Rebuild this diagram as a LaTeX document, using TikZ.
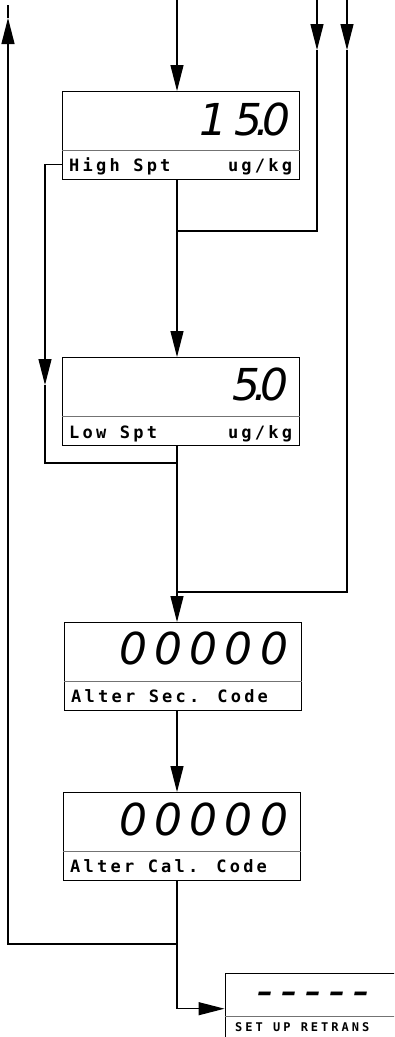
\documentclass[tikz,border=0pt]{standalone}
\usepackage{fontspec}
\usetikzlibrary{arrows.meta}
\newfontfamily\segfont{DejaVu Sans}[LetterSpace=16]
\newfontfamily\lblfont{DejaVu Sans Mono}[LetterSpace=19]
\newfontfamily\smlfont{DejaVu Sans Mono}[LetterSpace=25]
\newfontfamily\dashfont{DejaVu Sans}[LetterSpace=16]
\tikzset{
  conn/.style={line width=1.2pt, black},
  arr/.style={conn, -{Triangle[length=26pt,width=13pt]}},
  disp/.style={draw, line width=1.3pt, minimum width=237pt, minimum height=88pt, inner sep=0pt, anchor=north west},
  dispsmall/.style={draw, line width=1.3pt, minimum width=220pt, minimum height=100pt, inner sep=0pt, anchor=north west},
  divider/.style={line width=0.8pt, black!55},
  digits/.style={inner sep=0pt, anchor=base east, font=\segfont\itshape\fontsize{44}{44}\selectfont},
  lbl/.style={inner sep=0pt, anchor=base west, font=\lblfont\bfseries\fontsize{17}{17}\selectfont},
  unit/.style={inner sep=0pt, anchor=base east, font=\lblfont\bfseries\fontsize{17}{17}\selectfont},
  smlbl/.style={inner sep=0pt, anchor=base west, font=\smlfont\bfseries\fontsize{12}{12}\selectfont},
  dashes/.style={inner sep=0pt, anchor=base west, font=\dashfont\itshape\fontsize{46}{46}\selectfont}
}
\begin{document}
\begin{tikzpicture}[x=1pt,y=-1pt]
\useasboundingbox (0,0) rectangle (394,1037);
\clip (0,0) rectangle (394,1037);
% display boxes
\node[disp] (b1) at (62,91) {};
\node[disp] (b2) at (62,357) {};
\node[disp] (b3) at (64,622) {};
\node[disp] (b4) at (63,792) {};
\node[dispsmall] (b5) at (224.5,972.7) {};
% dividers
\foreach \b in {b1,b2,b3,b4}{
  \draw[divider] ([yshift=-59pt]\b.north west) -- ([yshift=-59pt]\b.north east);
}
\draw[divider] ([yshift=-44pt]b5.north west) -- ([yshift=-44pt]b5.north east);
% display values
\node[digits] (v1) at ([xshift=-10pt,yshift=-44pt]b1.north east) {15\kern-7pt.\kern-7pt0};
\node[digits] (v2) at ([xshift=-12pt,yshift=-43pt]b2.north east) {5\kern-7pt.\kern-7pt0};
\node[digits] (v3) at ([xshift=-14pt,yshift=-42pt]b3.north east) {00000};
\node[digits] (v4) at ([xshift=-13pt,yshift=-43pt]b4.north east) {00000};
\node[dashes] (v5) at (256,1006) {-----};
% labels
\node[lbl] (l1) at ([xshift=7pt,yshift=9pt]b1.south west) {High Spt};
\node[unit] (u1) at ([xshift=-8pt,yshift=9pt]b1.south east) {ug/kg};
\node[lbl] (l2) at ([xshift=7pt,yshift=8pt]b2.south west) {Low Spt};
\node[unit] (u2) at ([xshift=-8pt,yshift=8pt]b2.south east) {ug/kg};
\node[lbl] (l3) at ([xshift=7pt,yshift=9pt]b3.south west) {Alter Sec. Code};
\node[lbl] (l4) at ([xshift=7pt,yshift=9pt]b4.south west) {Alter Cal. Code};
\node[smlbl] (l5) at (235,1031.7) {SET UP RETRANS};
% coordinates
\coordinate (t0) at (177,0);
\coordinate (ra0) at (317,0);
\coordinate (ra1) at (317,50);
\coordinate (ja) at (177,231);
\coordinate (rb0) at (347,0);
\coordinate (rb1) at (347,50);
\coordinate (jb) at (177,592);
\coordinate (lp1) at ([yshift=16pt]b1.south west);
\coordinate (lp2) at (45,385);
\coordinate (jl) at (177,463);
\coordinate (jc) at (177,944);
\coordinate (lu1) at (8,18);
\coordinate (lu0) at (8,5);
\coordinate (k5) at ([yshift=-36pt]b5.north west);
% connectors
\draw[arr] (t0) -- (t0 |- b1.north);
\draw[arr] (b1.south -| t0) -- (b2.north -| t0);
\draw[arr] (ra0) -- (ra1);
\draw[conn] (ra1) |- (ja);
\draw[arr] (rb0) -- (rb1);
\draw[conn] (rb1) |- (jb);
\draw[arr] (lp1) -| (lp2);
\draw[conn] (lp2) |- (jl);
\draw[arr] (b2.south -| t0) -- (b3.north -| t0);
\draw[arr] (b3.south -| t0) -- (b4.north -| t0);
\draw[arr] (b4.south -| t0) |- (k5);
\draw[arr] (jc) -| (lu1);
\draw[conn] (lu1) -- (lu0);
\end{tikzpicture}
\end{document}
